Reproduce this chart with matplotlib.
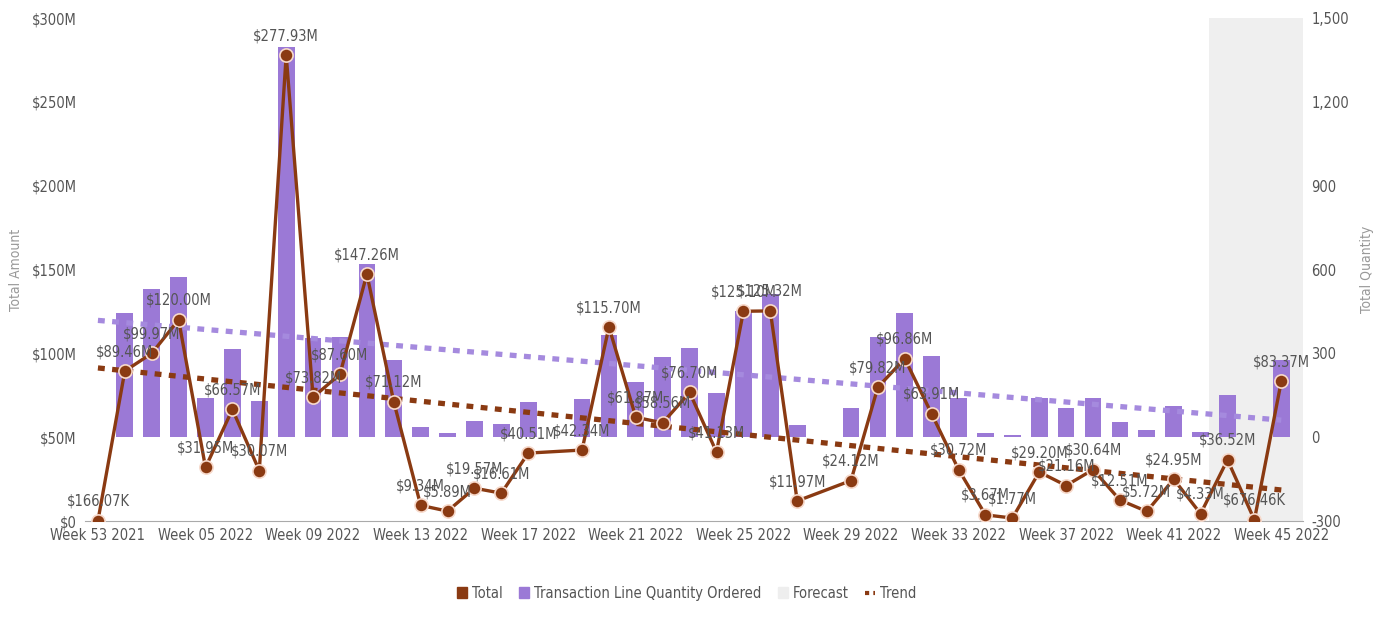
import matplotlib
matplotlib.use("Agg")
import matplotlib.pyplot as plt
from matplotlib.patches import Patch
from matplotlib.lines import Line2D
from matplotlib.ticker import FixedLocator
import numpy as np

# weekly totals in $M (None = no data that week)
total_m = [0.16607, 89.46, 99.97, 120.00, 31.95, 66.57, 30.07, 277.93, 73.82, 87.60,
           147.26, 71.12, 9.34, 5.89, 19.57, 16.61, 40.51, None, 42.34, 115.70,
           61.87, 58.56, 76.70, 41.13, 125.10, 125.32, 11.97, None, 24.12, 79.82,
           96.86, 63.91, 30.72, 3.67, 1.77, 29.20, 21.16, 30.64, 12.51, 5.72,
           24.95, 4.33, 36.52, 0.67646, 83.37]

# transaction line quantity ordered
qty = [0, 445, 530, 575, 140, 314, 128, 1395, 355, 360,
       618, 278, 36, 14, 57, 46, 125, 0, 136, 364,
       196, 286, 318, 157, 453, 514, 43, 0, 104, 357,
       443, 289, 139, 14, 7, 139, 104, 139, 54, 25,
       111, 18, 150, 0, 275]

tick_labels = ["Week 53 2021", "Week 05 2022", "Week 09 2022", "Week 13 2022",
               "Week 17 2022", "Week 21 2022", "Week 25 2022", "Week 29 2022",
               "Week 33 2022", "Week 37 2022", "Week 41 2022", "Week 45 2022"]

# trend end points (first week, last week)
trend_total = [91.3, 18.5]
trend_qty = [418, 61]

forecast_weeks = [42, 43, 44]

BROWN = "#8a3a12"
PURPLE = "#9b79d6"
PURPLE_TREND = "#a58ade"
GREY_TXT = "#555555"

plt.rcParams["font.family"] = ["DejaVu Sans"]
plt.rcParams["font.stretch"] = "condensed"
FS = 10.5

fig = plt.figure(figsize=(13.87, 6.26), dpi=100)
ax = fig.add_axes([0.0613, 0.1677, 0.878, 0.8035])
ax2 = ax.twinx()

x = np.arange(len(qty))
n = len(qty)

# forecast band + bars on the quantity axis
ax2.axvspan(forecast_weeks[0] - 0.7, forecast_weeks[-1] + 0.8, color="#efefef", zorder=0, lw=0)
ax2.bar(x, qty, width=0.62, color=PURPLE, zorder=2)
ax2.plot([0, n - 1], trend_qty, color=PURPLE_TREND, lw=3.8, ls=(0, (1.3, 1.4)), zorder=3)
ax2.set_ylim(-300, 1500)
ax2.set_yticks(range(-300, 1501, 300))
ax2.set_yticklabels([f"{v:,}" for v in range(-300, 1501, 300)])

# amount line on top
ax.set_zorder(ax2.get_zorder() + 1)
ax.patch.set_visible(False)
ax.plot([0, n - 1], trend_total, color=BROWN, lw=3.8, ls=(0, (1.3, 1.4)), zorder=3)

valid = [(i, v) for i, v in enumerate(total_m) if v is not None]
xs = [i for i, v in valid]
ys = [v for i, v in valid]
ax.plot(xs, ys, color=BROWN, lw=2.4, marker="o", ms=9.5, mfc=BROWN,
        mec="#f7d9cb", mew=1.2, zorder=4)

for i, v in valid:
    if v < 1:
        txt = f"${v * 1000:.2f}K"
    else:
        txt = f"${v:.2f}M"
    ax.annotate(txt, (i, v), xytext=(0, 14), textcoords="offset points",
                ha="center", va="center", fontsize=FS, color=GREY_TXT, zorder=5)

ax.set_xlim(-0.48, 44.8)
ax.set_ylim(0, 300)
ax.set_yticks(range(0, 301, 50))
ax.set_yticklabels(["$0"] + [f"${v}M" for v in range(50, 301, 50)])
ax.xaxis.set_major_locator(FixedLocator(range(0, n, 4)))
ax.set_xticklabels(tick_labels)

ax.set_ylabel("Total Amount", color="#999999", fontsize=10, labelpad=6)
ax2.set_ylabel("Total Quantity", color="#999999", fontsize=10, labelpad=8)

for a in (ax, ax2):
    for s in a.spines.values():
        s.set_visible(False)
    a.tick_params(length=0, labelsize=FS, labelcolor=GREY_TXT, pad=6)
ax.spines["bottom"].set_visible(True)
ax.spines["bottom"].set_color("#aaaaaa")
ax.tick_params(axis="x", pad=5)

handles = [Patch(color=BROWN), Patch(color=PURPLE), Patch(color="#eeeeee"),
           Line2D([0], [0], color=BROWN, lw=3, ls=(0, (1, 1)))]
fig.legend(handles, ["Total", "Transaction Line Quantity Ordered", "Forecast", "Trend"],
           loc="center", bbox_to_anchor=(0.495, 0.052), ncol=4, frameon=False,
           fontsize=FS, labelcolor=GREY_TXT, handlelength=0.7, handleheight=0.8,
           handletextpad=0.35, columnspacing=1.1)

fig.savefig("out.png", dpi=100, facecolor="white")
